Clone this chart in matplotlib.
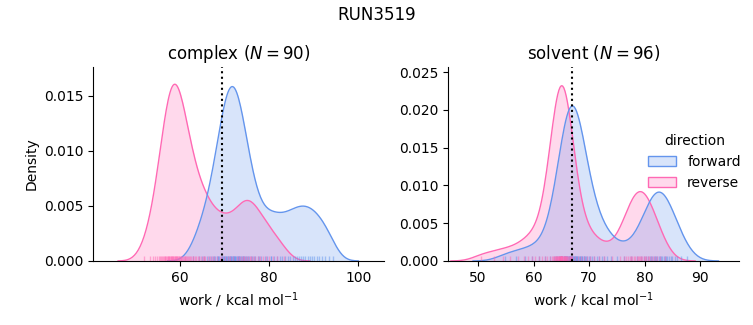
import matplotlib
matplotlib.use("Agg")
import matplotlib.pyplot as plt
from matplotlib.colors import to_rgba
from matplotlib.patches import Patch
import numpy as np

complex_forward = [
    63.1, 64.4, 65.0, 65.4, 66.1, 66.6, 67.0, 67.4, 67.7, 68.0, 68.3, 68.5, 68.7, 68.9, 69.2, 69.4,
    69.5, 69.7, 69.9, 70.0, 70.2, 70.3, 70.5, 70.6, 70.8, 70.9, 71.1, 71.2, 71.3, 71.5, 71.6, 71.7,
    71.9, 72.0, 72.1, 72.3, 72.4, 72.5, 72.7, 72.8, 73.0, 73.1, 73.3, 73.4, 73.6, 73.7, 73.9,
    74.1, 74.2, 74.4, 74.7, 74.9, 75.1, 75.3, 75.6, 75.9, 76.2, 76.6, 77.0, 77.5, 77.8, 78.2,
    79.2, 80.5,
    79.6, 80.4, 81.1, 81.8, 82.4, 83.0, 83.6, 84.2, 84.7, 85.3, 85.8, 86.3, 86.8,
    87.3, 87.7, 88.2, 88.7, 89.2, 89.7, 90.2, 90.7, 91.3, 91.9, 92.6, 93.4, 94.3,
]
complex_reverse = [
    52.0, 53.3, 54.0, 54.5, 54.9, 55.3, 55.6, 55.8, 56.1, 56.3, 56.5, 56.7, 56.8, 57.0, 57.1,
    57.3, 57.5, 57.6, 57.7, 57.9, 58.0, 58.1, 58.3, 58.4, 58.5, 58.6,
    58.8, 58.9, 59.0, 59.1, 59.3, 59.4, 59.5, 59.7, 59.8, 59.9, 60.1, 60.3, 60.4, 60.6, 60.8,
    60.9, 61.1, 61.3, 61.6, 61.8, 62.2, 62.5, 62.9, 63.4, 64.1, 65.4,
    61.5, 62.4, 63.1, 63.7, 64.3, 64.8, 65.3, 65.8, 66.3, 66.8, 67.3, 67.8, 68.4, 69.0, 69.6,
    70.2, 70.8, 71.4, 71.9, 72.8, 73.3, 73.7, 74.1, 74.5, 74.9, 75.3, 75.7, 76.1, 76.5,
    77.0, 77.5, 78.0, 78.6, 79.3, 80.1, 80.9, 81.9, 83.4,
]
solvent_forward = [
    54.8, 56.9, 58.5, 59.8, 61.0, 62.0,
    62.9, 63.6, 64.0, 64.3, 64.5, 64.7, 64.9, 65.1, 65.2, 65.4, 65.5, 65.6, 65.7, 65.8, 65.9,
    66.0, 66.1, 66.2, 66.3, 66.4, 66.5, 66.6, 66.6, 66.7, 66.8, 66.9, 67.0, 67.0, 67.0, 67.1,
    67.2, 67.3, 67.4, 67.5, 67.6, 67.7, 67.8, 67.9, 68.0, 68.1, 68.3, 68.4, 68.5, 68.7, 68.8,
    69.0, 69.1, 69.3, 69.5, 69.7, 69.9, 70.2, 70.5, 70.9, 71.4, 72.3,
    71.8, 72.6, 73.3, 74.0, 75.1, 76.2,
    77.6, 78.7, 79.4, 79.8, 80.2, 80.6, 80.9, 81.1, 81.4, 81.6, 81.8, 82.1, 82.3, 82.5,
    82.7, 82.9, 83.1, 83.4, 83.6, 83.8, 84.1, 84.4, 84.7, 85.0, 85.4, 85.8, 86.5, 87.6,
]
solvent_reverse = [
    50.6, 52.8, 54.5, 55.8, 57.2,
    58.3, 59.0, 59.7, 60.3, 60.9, 61.5, 62.0, 62.5,
    63.0, 63.3, 63.5, 63.7, 63.8, 63.9, 64.0, 64.1, 64.2, 64.3, 64.4, 64.4, 64.5, 64.6, 64.6,
    64.7, 64.8, 64.8, 64.9, 64.9, 65.0, 65.0, 65.0,
    65.0, 65.1, 65.1, 65.2, 65.2, 65.3, 65.4, 65.4, 65.5, 65.6, 65.6, 65.7, 65.8, 65.9, 66.0,
    66.1, 66.2, 66.3, 66.5, 66.7, 67.0,
    66.5, 67.0, 67.5, 68.0, 68.5, 69.0, 69.6, 70.2, 70.9, 71.7,
    72.6, 74.1,
    75.6, 76.2, 76.6, 77.0, 77.3, 77.6, 77.8, 78.1, 78.3, 78.6, 78.8, 79.0, 79.2,
    79.4, 79.6, 79.8, 80.1, 80.3, 80.6, 80.8, 81.1, 81.5, 81.8, 82.2, 82.8, 83.6,
]

phases = ["complex", "solvent"]
directions = ["forward", "reverse"]
work = {
    ("complex", "forward"): complex_forward,
    ("complex", "reverse"): complex_reverse,
    ("solvent", "forward"): solvent_forward,
    ("solvent", "reverse"): solvent_reverse,
}
n_cycles = {"complex": 90, "solvent": 96}
free_energy = {"complex": 69.4, "solvent": 67.0}  # dotted lines

colors = {"forward": "#6495ED", "reverse": "#FF69B4"}
n_total = 400      # densities normalised over the whole run table (common_norm)
bw_adjust = 0.6


def kde(x):
    # gaussian kde with scott bandwidth, seaborn-like grid (cut=3)
    x = np.asarray(x)
    bw = bw_adjust * np.std(x, ddof=1) * len(x) ** (-1 / 5)
    grid = np.linspace(x.min() - 3 * bw, x.max() + 3 * bw, 200)
    d = np.exp(-0.5 * ((grid[:, None] - x[None, :]) / bw) ** 2).sum(axis=1)
    d = d / (len(x) * bw * np.sqrt(2 * np.pi))
    return grid, d * len(x) / n_total


fig = plt.figure(figsize=(7.53, 3.25), dpi=100)
axes = [fig.add_axes([0.1235, 0.197, 0.3865, 0.597]),
        fig.add_axes([0.595, 0.197, 0.3865, 0.597])]

for ax, phase in zip(axes, phases):
    for direction in directions[::-1]:
        grid, dens = kde(work[(phase, direction)])
        c = colors[direction]
        ax.fill_between(grid, dens, color=c, alpha=0.25, lw=0)
        ax.plot(grid, dens, color=c, lw=1)
    for direction in directions:
        ax.vlines(work[(phase, direction)], 0, 0.025, transform=ax.get_xaxis_transform(),
                  color=colors[direction], alpha=0.5, lw=1)
    ax.axvline(free_energy[phase], color="k", ls=":", lw=1.5)
    ax.set_title(f"{phase} ($N = {n_cycles[phase]}$)", fontsize=12)
    ax.set_xlabel("work / kcal mol$^{-1}$")
    ax.spines["top"].set_visible(False)
    ax.spines["right"].set_visible(False)

axes[0].set_xlim(40.6, 105.8)
axes[0].set_ylim(0, 0.0176)
axes[0].set_xticks([60, 80, 100])
axes[0].set_yticks([0, 0.005, 0.01, 0.015])
axes[0].set_ylabel("Density")
axes[1].set_xlim(44.6, 97.0)
axes[1].set_ylim(0, 0.0257)
axes[1].set_xticks([50, 60, 70, 80, 90])
axes[1].set_yticks([0, 0.005, 0.01, 0.015, 0.02, 0.025])

handles = [Patch(facecolor=to_rgba(colors[d], 0.25), edgecolor=colors[d]) for d in directions]
axes[1].legend(handles, directions, title="direction", frameon=False,
               loc="center left", bbox_to_anchor=(0.645, 0.51))

fig.suptitle("RUN3519", fontsize=12)
fig.savefig("out.png", dpi=100)
